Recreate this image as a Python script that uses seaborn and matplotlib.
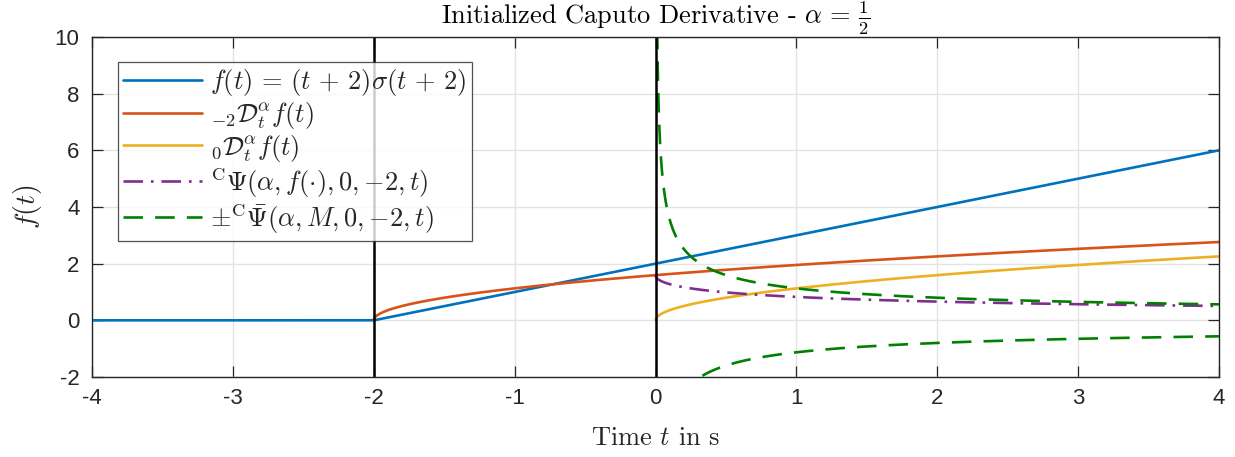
import numpy as np
import pandas as pd
import matplotlib
matplotlib.use("Agg")
import matplotlib.pyplot as plt
import seaborn as sns
from math import gamma

# Parameters of the initialized Caputo derivative example
alpha = 0.5          # derivative order
a = -2.0             # start of the function f(t) = (t+2) sigma(t+2)
c = 0.0              # initialization time
M = 2.0              # bound on |f| over the history interval [a, c]

x_ticks = [-4, -3, -2, -1, 0, 1, 2, 3, 4]
y_ticks = [-2, 0, 2, 4, 6, 8, 10]
x_limits = [-4, 4]
y_limits = [-2, 10]

labels = [
    r"$f(t)\,=\,(t\,+\,2)\sigma(t\,+\,2)$",
    r"${}_{-2}\mathcal{D}_t^{\alpha} f(t)$",
    r"${}_{0}\mathcal{D}_t^{\alpha} f(t)$",
    r"${}^{\mathrm{C}}\Psi(\alpha, f(\cdot), 0, {-2}, t)$",
    r"$\pm{}^{\mathrm{C}}\bar{\Psi}(\alpha, M, 0, {-2}, t)$",
]
colors = ["#0072BD", "#D95319", "#EDB120", "#7E2F8E", "#008000"]

# Time grids
t_all = np.linspace(-4, 4, 4001)
t_a = np.linspace(a, 4, 3001)
t_c = np.linspace(c, 4, 3001)
t_b = np.linspace(1e-4, 4, 6001)

# Function and its fractional derivatives (Caputo of a ramp)
f_vals = (t_all - a) * (t_all >= a)
D_a = (t_a - a) ** (1 - alpha) / gamma(2 - alpha)
D_c = (t_c - c) ** (1 - alpha) / gamma(2 - alpha)
psi = (t_c - a) ** (1 - alpha) / gamma(2 - alpha) - D_c
psi_bar = M / gamma(1 - alpha) * (t_b - c) ** (-alpha)
# keep the bound inside the plotted range
b_mask = psi_bar <= 10.5

df_f = pd.DataFrame({"t": t_all, "y": f_vals})
df_da = pd.DataFrame({"t": t_a, "y": D_a})
df_dc = pd.DataFrame({"t": t_c, "y": D_c})
df_psi = pd.DataFrame({"t": t_c, "y": psi})
df_up = pd.DataFrame({"t": t_b[b_mask], "y": psi_bar[b_mask]})
df_lo = pd.DataFrame({"t": t_b[b_mask], "y": -psi_bar[b_mask]})

sns.set_theme(style="white")
plt.rcParams["mathtext.fontset"] = "cm"
plt.rcParams["font.family"] = ["Liberation Sans", "DejaVu Sans"]
plt.rcParams["axes.unicode_minus"] = False

fig = plt.figure(figsize=(12.35, 4.57), dpi=100)
ax = fig.add_axes([92 / 1235, 1 - 377 / 457, (1219 - 92) / 1235, (377 - 37) / 457])

lw = 1.9
kw = dict(ax=ax, x="t", y="y", linewidth=lw, sort=False, estimator=None)
sns.lineplot(data=df_f, color=colors[0], label=labels[0], **kw)
sns.lineplot(data=df_da, color=colors[1], label=labels[1], **kw)
sns.lineplot(data=df_dc, color=colors[2], label=labels[2], **kw)
l_psi = sns.lineplot(data=df_psi, color=colors[3], label=labels[3], **kw).lines[-1]
l_psi.set_linestyle((0, (7.4, 3.0, 1.0, 3.0)))
l_up = sns.lineplot(data=df_up, color=colors[4], label=labels[4], **kw).lines[-1]
l_up.set_linestyle((0, (7.4, 4.6)))
l_lo = sns.lineplot(data=df_lo, color=colors[4], **kw).lines[-1]
l_lo.set_linestyle((0, (7.4, 4.6)))

# Markers for the function start and the initialization time
for xv in (a, c):
    ax.axvline(xv, color="black", linewidth=1.8, zorder=5)

ax.set_xlim(*x_limits)
ax.set_ylim(*y_limits)
ax.set_xticks(x_ticks)
ax.set_yticks(y_ticks)
ax.set_xticklabels([str(v) for v in x_ticks])
ax.set_yticklabels([str(v) for v in y_ticks])
ax.grid(True, color="#e3e3e3", linewidth=1.0)
ax.set_axisbelow(True)

axis_col = "#262626"
for sp in ax.spines.values():
    sp.set_color(axis_col)
    sp.set_linewidth(1.0)
    sp.set_zorder(6)
ax.tick_params(axis="both", which="both", direction="in", length=8, width=0.9,
               top=True, right=True, bottom=True, left=True,
               color=axis_col, labelcolor=axis_col, labelsize=16)
ax.tick_params(axis="x", pad=8)
ax.tick_params(axis="y", pad=9)

ax.set_title(r"Initialized Caputo Derivative - $\alpha\,=\,\frac{1}{2}$",
             fontname="cmr10", fontsize=19, pad=3, color="black")
ax.set_xlabel(r"Time $t$ in s", fontname="cmr10", fontsize=19, labelpad=12)
ax.set_ylabel(r"$f(t)$", fontsize=20, labelpad=8)

leg = ax.legend(loc="upper left", bbox_to_anchor=(0.023, 0.926), fontsize=19,
                frameon=True, fancybox=False, edgecolor=axis_col,
                handlelength=3.0, handletextpad=0.3, labelspacing=0.06,
                borderpad=0.2, borderaxespad=0.0)
leg.get_frame().set_linewidth(0.9)
leg.set_zorder(10)

fig.savefig("out.png", dpi=100)
